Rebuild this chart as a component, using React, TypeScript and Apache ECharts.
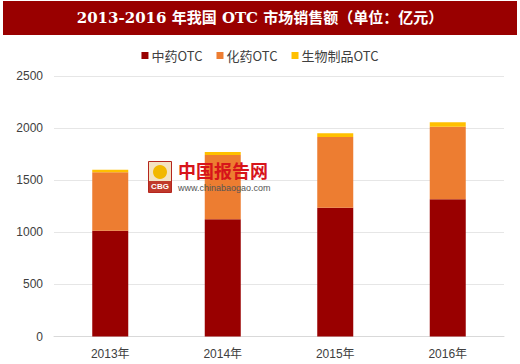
import React, { useEffect, useRef } from "react";
import * as echarts from "echarts";

const categories = ["2013年", "2014年", "2015年", "2016年"];
const seriesNames = ["中药OTC", "化药OTC", "生物制品OTC"];
const tcmValues = [1016, 1125, 1236, 1317];
const chemValues = [560, 617, 679, 697];
const bioValues = [25, 29, 36, 42];
const yTicks = [0, 500, 1000, 1500, 2000, 2500];
const colors = ["#990000", "#ED7D31", "#FFC000"];

export default function App() {
  const ref = useRef<HTMLDivElement>(null);
  useEffect(() => {
    const chart = echarts.init(ref.current!, undefined, { renderer: "svg" });
    const values = [tcmValues, chemValues, bioValues];
    chart.setOption({
      animation: false,
      backgroundColor: "#ffffff",
      graphic: [
        { type: "rect", shape: { x: 3, y: 1, width: 514, height: 34 }, style: { fill: "#990000" }, z: 0 },
        {
          type: "text",
          x: 260,
          y: 18,
          style: {
            text: "2013-2016 年我国 OTC 市场销售额（单位：亿元）",
            fill: "#ffffff",
            font: "bold 15px 'DejaVu Serif', 'Noto Sans CJK SC', serif",
            align: "center",
            verticalAlign: "middle",
          },
        },
        { type: "rect", shape: { x: 148.5, y: 161.5, width: 23, height: 31 }, style: { fill: "#f3e3c3", stroke: "#b5261e", lineWidth: 1 }, z: 5 },
        { type: "circle", shape: { cx: 160, cy: 172, r: 7 }, style: { fill: "#f2b800" }, z: 6 },
        { type: "rect", shape: { x: 149, y: 181, width: 22, height: 11 }, style: { fill: "#c0392b" }, z: 6 },
        {
          type: "text", x: 160, y: 186.5,
          style: { text: "CBG", fill: "#ffffff", font: "bold 8px sans-serif", align: "center", verticalAlign: "middle" }, z: 7,
        },
        {
          type: "text", x: 178, y: 170,
          style: { text: "中国报告网", fill: "#d7141a", font: "bold 18px 'Noto Sans CJK SC'", verticalAlign: "middle" }, z: 6,
        },
        {
          type: "text", x: 178, y: 188,
          style: { text: "www.chinabaogao.com", fill: "#555555", font: "9px Arial, 'Liberation Sans'", verticalAlign: "middle" }, z: 6,
        },
      ],
      legend: {
        top: 44,
        left: "center",
        itemWidth: 7,
        itemHeight: 7,
        itemGap: 14,
        icon: "rect",
        textStyle: { fontSize: 13, color: "#404040", fontFamily: "'Noto Sans CJK SC', sans-serif", padding: [0, 0, 0, -2] },
        data: seriesNames,
      },
      grid: { left: 54, right: 16, top: 76, bottom: 27.5, containLabel: false },
      xAxis: {
        type: "category",
        data: categories,
        axisTick: { show: false },
        axisLine: { lineStyle: { color: "#d9d9d9" } },
        axisLabel: { color: "#404040", fontSize: 12, margin: 11, fontFamily: "'Liberation Sans', 'Noto Sans CJK SC', sans-serif" },
      },
      yAxis: {
        type: "value",
        min: yTicks[0],
        max: yTicks[yTicks.length - 1],
        interval: 500,
        axisLine: { show: false },
        axisTick: { show: false },
        splitLine: { lineStyle: { color: "#e6e6e6" } },
        axisLabel: {
          color: "#404040",
          fontSize: 12,
          margin: 11,
          fontFamily: "'Liberation Sans', sans-serif",
          formatter: (v: number) => String(v),
        },
      },
      series: seriesNames.map((name, i) => ({
        name,
        type: "bar",
        stack: "total",
        barWidth: 36,
        data: values[i],
        itemStyle: { color: colors[i] },
      })),
    });
    return () => chart.dispose();
  }, []);
  return <div ref={ref} style={{ width: 520, height: 364, position: "absolute", left: 0, top: 0 }} />;
}
